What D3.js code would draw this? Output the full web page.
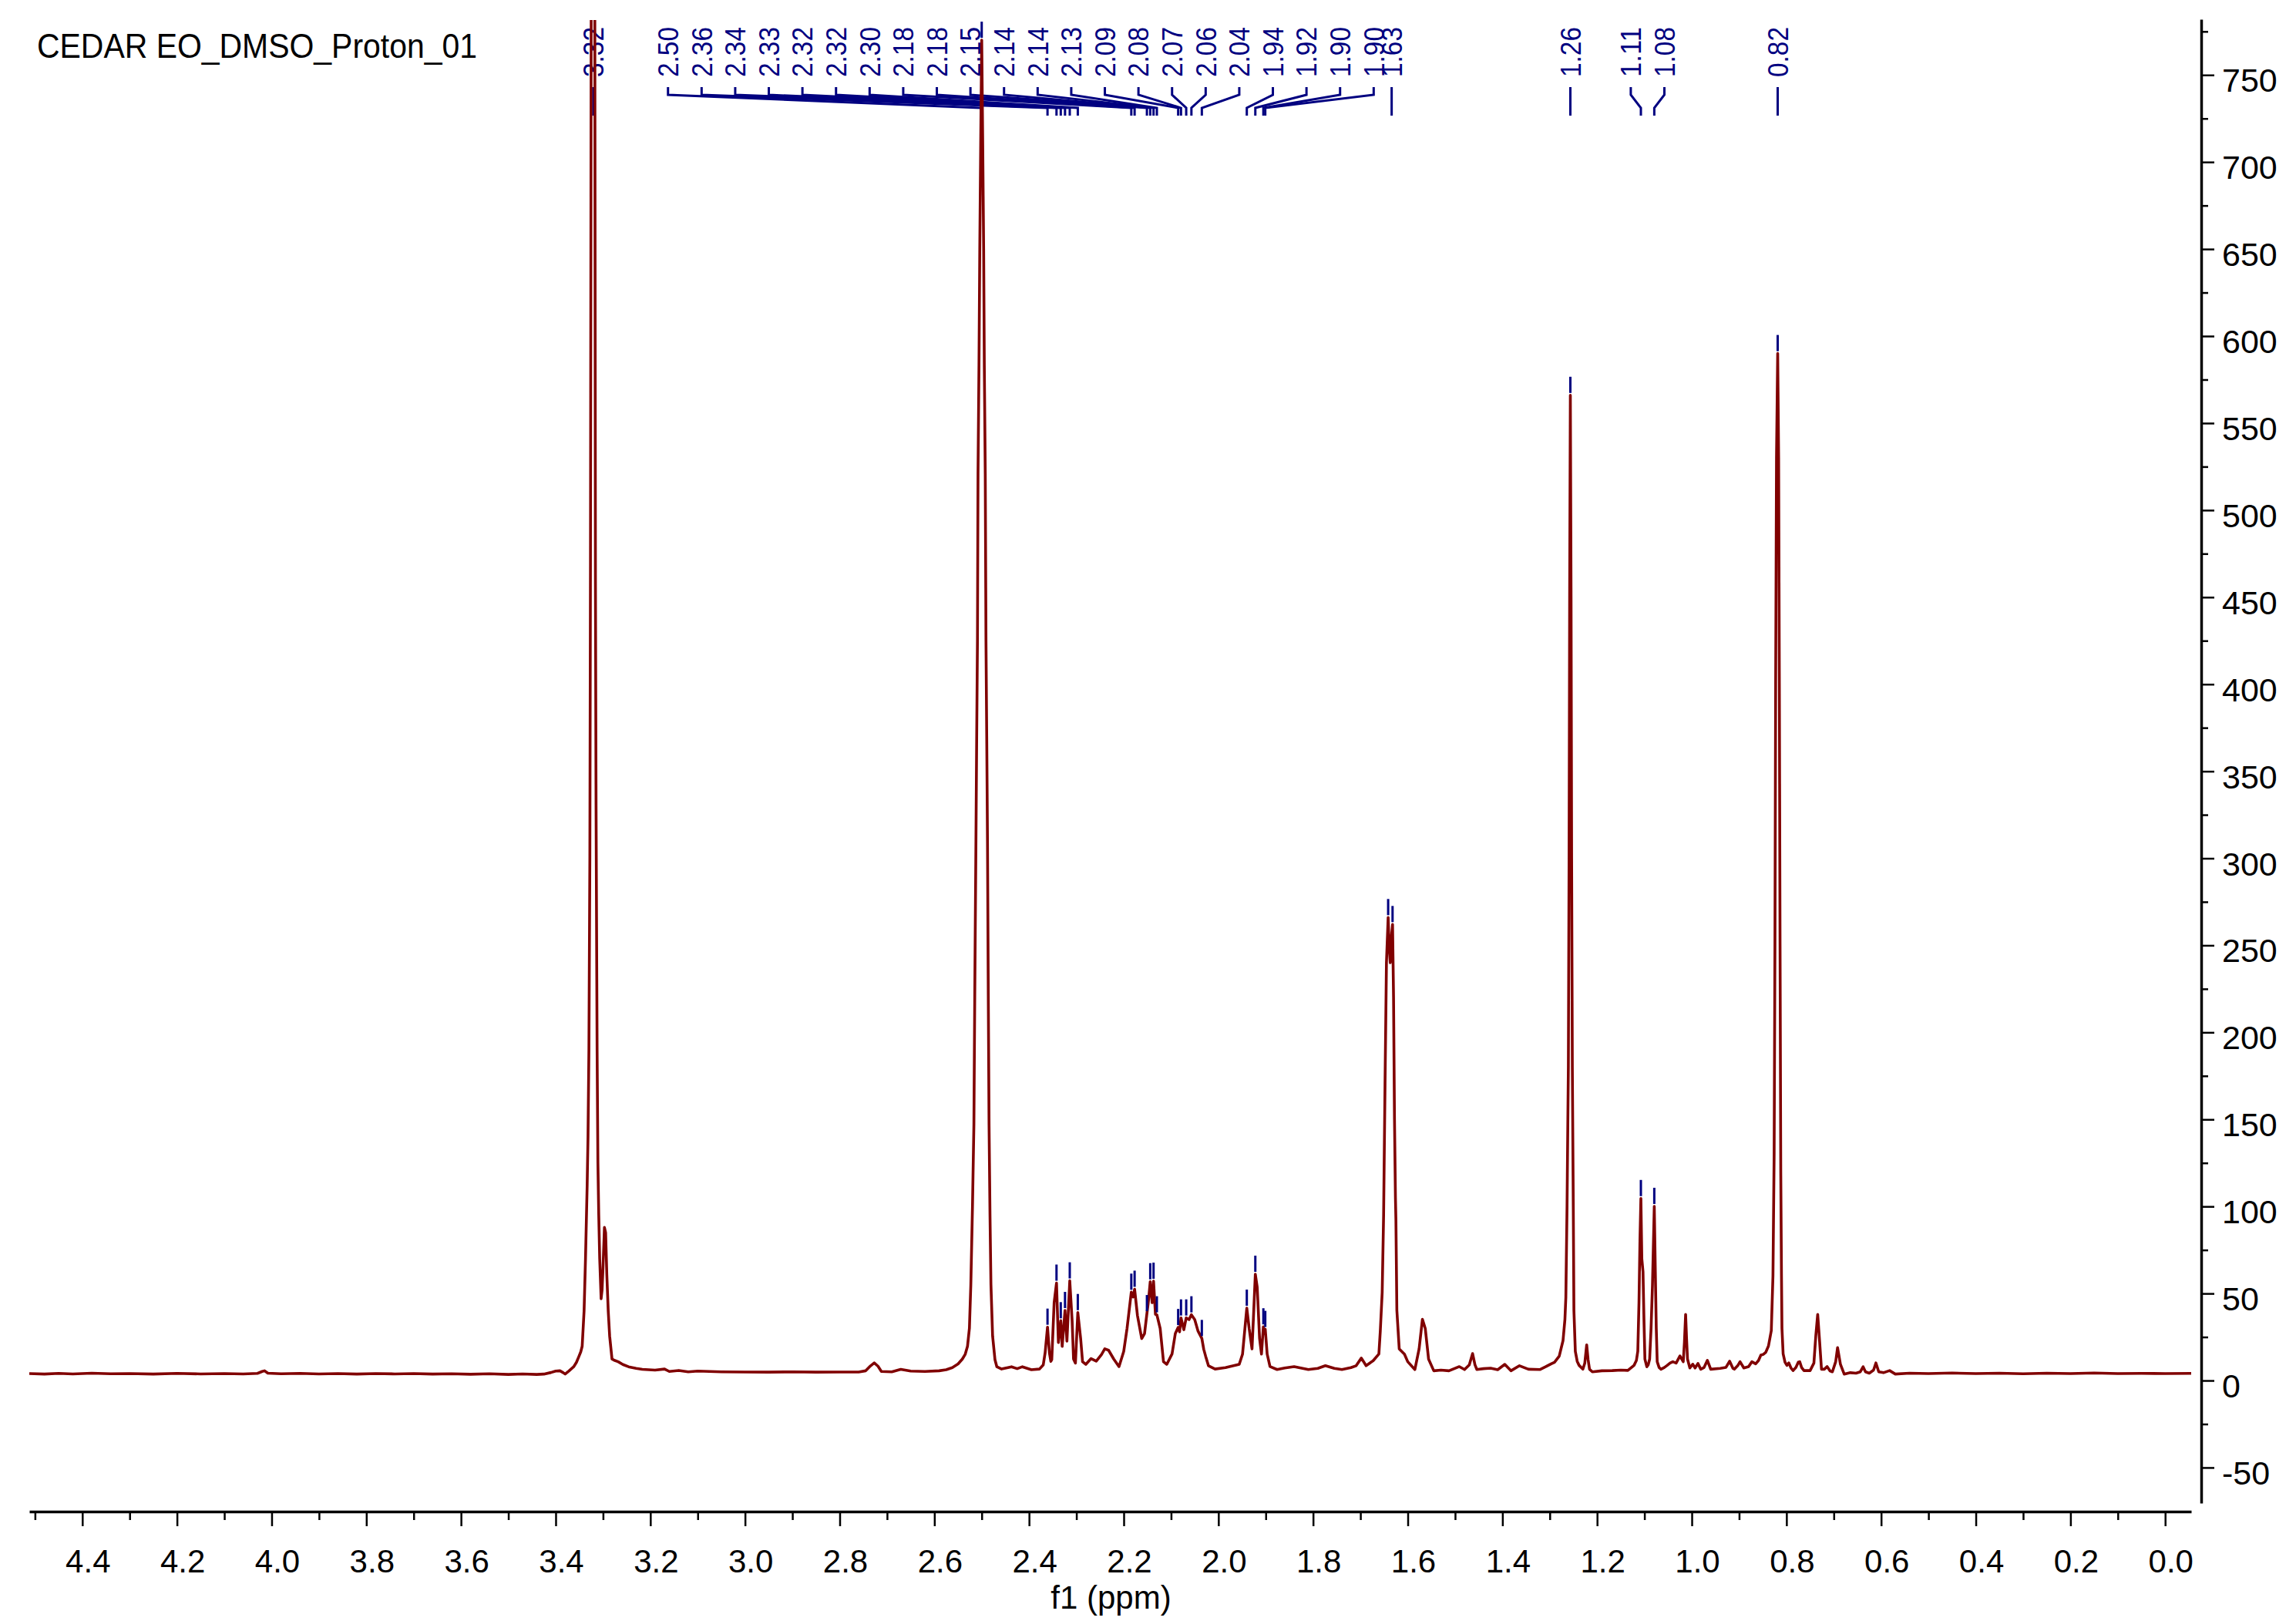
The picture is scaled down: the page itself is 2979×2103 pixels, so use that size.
<!DOCTYPE html>
<html><head><meta charset="utf-8">
<script src="https://cdn.jsdelivr.net/npm/d3@7"></script>
<style>
html,body{margin:0;padding:0;background:#fff}
svg{display:block}
text{font-family:"Liberation Sans",Arial,sans-serif}
</style>
</head><body>
<svg id="chart" width="2979" height="2103"></svg>
<script>
// ---------------- data ----------------
const chartTitle = "CEDAR EO_DMSO_Proton_01";
const xAxisTitle = "f1 (ppm)";
const xMajorTicks = [4.4,4.2,4.0,3.8,3.6,3.4,3.2,3.0,2.8,2.6,2.4,2.2,2.0,1.8,1.6,1.4,1.2,1.0,0.8,0.6,0.4,0.2,0.0];
const xMinorTicks = [4.5,4.3,4.1,3.9,3.7,3.5,3.3,3.1,2.9,2.7,2.5,2.3,2.1,1.9,1.7,1.5,1.3,1.1,0.9,0.7,0.5,0.3,0.1];
const yMajorTicks = [-50,0,50,100,150,200,250,300,350,400,450,500,550,600,650,700,750];
const yMinorTicks = [-25,25,75,125,175,225,275,325,375,425,475,525,575,625,675,725,775];

// spectrum trace: [chemical shift (ppm), intensity]
const spectrum = [
[4.512,4.0],[4.48,3.7],[4.45,4.1],[4.42,3.8],[4.38,4.2],[4.34,3.9],[4.30,4.0],[4.25,3.7],[4.20,4.1],[4.15,3.8],
[4.10,4.0],[4.06,3.8],[4.03,4.1],[4.02,5.2],[4.015,5.6],[4.008,4.2],[3.98,3.9],[3.94,4.1],[3.90,3.8],[3.86,4.0],
[3.82,3.7],[3.78,4.0],[3.74,3.8],[3.70,4.0],[3.66,3.7],[3.62,3.9],[3.58,3.6],[3.54,3.9],[3.50,3.5],[3.47,3.8],
[3.44,3.5],[3.425,3.7],[3.41,4.6],[3.40,5.4],[3.391,5.6],[3.384,4.5],[3.380,3.7],[3.372,5.5],[3.362,7.9],[3.356,10.5],
[3.351,13.8],[3.347,16.5],[3.344,19.7],[3.340,40],[3.337,70],[3.3335,112],[3.3317,140],[3.3298,190],[3.3278,300],[3.3265,470],
[3.3250,782],[3.3210,1500],[3.3173,782],[3.3160,460],[3.3147,330],[3.3125,190],[3.3108,125],[3.309,95],[3.307,70],[3.304,47],
[3.302,52],[3.300,65],[3.297,88],[3.2945,85],[3.292,61],[3.289,40],[3.286,25.6],[3.281,12.3],[3.275,11.5],[3.268,10.8],
[3.258,9.2],[3.246,7.9],[3.23,7.0],[3.217,6.4],[3.19,6.0],[3.17,6.6],[3.16,5.2],[3.14,5.8],[3.12,5.0],[3.10,5.4],
[3.05,5.0],[3.00,4.9],[2.95,4.8],[2.90,5.0],[2.85,4.8],[2.80,4.9],[2.76,4.9],[2.745,5.6],[2.735,8.4],[2.727,10.1],
[2.719,8.2],[2.712,5.2],[2.69,5.0],[2.671,6.4],[2.65,5.4],[2.62,5.2],[2.59,5.6],[2.575,6.2],[2.562,7.4],[2.550,9.5],
[2.541,12.3],[2.535,15],[2.530,19.7],[2.526,30],[2.523,55],[2.5195,100],[2.5165,147],[2.5147,221],[2.5122,310],[2.5106,370],
[2.5090,425],[2.5078,521],[2.5058,583],[2.5041,650],[2.5020,715],[2.5000,770],[2.4980,715],[2.4959,650],[2.4945,583],[2.4925,521],
[2.4910,425],[2.4894,370],[2.4878,310],[2.4861,221],[2.4845,147],[2.4825,95],[2.4805,55],[2.477,25.6],[2.472,12],[2.468,7.9],
[2.458,6.6],[2.437,7.9],[2.425,6.8],[2.414,7.9],[2.395,6.2],[2.378,6.6],[2.370,9],[2.366,16],[2.361,30.7],[2.357,16],
[2.354,11],[2.352,12],[2.347,44.7],[2.342,56],[2.338,21.8],[2.333,34.4],[2.330,19.6],[2.324,40.3],[2.320,22.6],[2.314,57.3],
[2.309,34.4],[2.306,12.3],[2.302,10],[2.297,39.1],[2.291,24.1],[2.287,10.8],[2.280,9.3],[2.269,12.6],[2.258,11.1],[2.247,14.9],
[2.240,18.2],[2.232,17.4],[2.221,12.3],[2.210,8.0],[2.200,16.7],[2.193,29.9],[2.184,50.8],[2.180,48],[2.177,52.5],[2.171,37.3],
[2.162,24.1],[2.156,27],[2.151,38.5],[2.148,45],[2.144,56.8],[2.140,44.7],[2.137,57.1],[2.133,38],[2.130,37.8],[2.123,29.9],
[2.116,10.8],[2.109,9.3],[2.098,15.2],[2.091,27],[2.085,30.5],[2.082,28],[2.079,36],[2.073,29.2],[2.068,36],[2.062,35],
[2.057,37.8],[2.050,35],[2.043,28.4],[2.035,24.2],[2.031,18],[2.027,14],[2.021,8.5],[2.007,6.6],[1.985,7.4],[1.956,9.3],
[1.949,15.2],[1.944,29.9],[1.940,41.6],[1.935,29.9],[1.929,18.2],[1.926,35.9],[1.922,61.1],[1.918,53.6],[1.913,24.1],[1.909,15.2],
[1.905,30.9],[1.903,27],[1.901,29.4],[1.897,15.2],[1.891,8.0],[1.876,6.3],[1.860,7.2],[1.840,8.0],[1.810,6.3],[1.790,7.0],
[1.774,8.5],[1.755,7.0],[1.739,6.3],[1.720,7.4],[1.709,8.5],[1.698,12.9],[1.688,8.5],[1.673,11.4],[1.661,15.2],[1.658,28.4],
[1.654,50.6],[1.651,95],[1.648,170],[1.645,240],[1.6414,266],[1.639,248],[1.637,240],[1.6345,255],[1.6321,262],[1.630,220],
[1.628,150],[1.626,105],[1.625,92],[1.623,40.3],[1.618,18.2],[1.607,15.2],[1.600,10.8],[1.585,6.3],[1.576,18.2],[1.569,35.2],
[1.563,29.9],[1.556,12.3],[1.545,5.6],[1.530,6.0],[1.513,5.6],[1.491,8.0],[1.480,6.3],[1.470,9],[1.463,15.5],[1.458,9],
[1.454,6.3],[1.440,6.8],[1.425,7.1],[1.410,6.2],[1.395,9.3],[1.382,5.6],[1.364,8.5],[1.345,6.5],[1.321,6.3],[1.308,8.0],
[1.297,9.6],[1.290,10.5],[1.280,14.0],[1.272,22.9],[1.268,35],[1.266,47.9],[1.2635,100],[1.2607,180],[1.2592,300],[1.2580,450],
[1.2565,566],[1.2550,450],[1.2538,300],[1.2523,180],[1.2503,100],[1.249,40.4],[1.246,16.8],[1.242,11],[1.238,8.7],[1.230,6.5],
[1.226,10],[1.222,20.5],[1.219,12],[1.216,6.5],[1.210,5.0],[1.190,5.6],[1.168,5.7],[1.150,6.0],[1.135,5.8],[1.122,8.7],
[1.117,11.5],[1.114,16.8],[1.1115,45],[1.1095,80],[1.1075,104.6],[1.1055,69.9],[1.103,62.5],[1.101,35],[1.099,12.3],[1.095,7.9],
[1.092,9],[1.089,12.3],[1.086,30],[1.083,55.1],[1.0792,100.1],[1.077,62.5],[1.075,30],[1.073,10.8],[1.069,7.5],[1.065,6.5],
[1.058,7.5],[1.052,8.7],[1.046,10],[1.040,10.8],[1.033,10],[1.025,14.1],[1.018,10.8],[1.0155,22],[1.013,38.0],[1.011,24],
[1.009,12.3],[1.004,7.2],[0.998,9.4],[0.993,7.2],[0.987,9.8],[0.981,6.5],[0.974,7.5],[0.967,11.6],[0.960,6.5],[0.940,7.0],
[0.928,7.5],[0.920,11.1],[0.913,7.0],[0.910,6.5],[0.903,8.5],[0.898,10.8],[0.890,7.2],[0.880,8.0],[0.873,10.8],[0.865,9.6],
[0.859,11.5],[0.854,14.6],[0.849,15],[0.844,16.1],[0.838,19.8],[0.832,28.7],[0.8285,60],[0.826,130],[0.8243,250],[0.8228,400],
[0.8210,530],[0.8185,590],[0.8165,530],[0.8150,400],[0.8135,250],[0.8120,120],[0.8105,60],[0.8095,30],[0.807,15.3],[0.803,10.5],
[0.799,8.7],[0.795,10.1],[0.790,7],[0.786,5.7],[0.780,7.5],[0.775,10.5],[0.772,10.8],[0.768,7.5],[0.763,5.7],[0.750,5.7],
[0.742,10],[0.738,25.6],[0.734,38.0],[0.730,22.6],[0.726,6.5],[0.720,6.5],[0.714,8.0],[0.708,5.5],[0.703,5.0],[0.696,10.8],
[0.692,18.9],[0.686,9.4],[0.678,3.7],[0.665,4.5],[0.653,4.2],[0.644,5.0],[0.638,7.9],[0.633,5.0],[0.625,4.2],[0.616,6.0],
[0.611,10.1],[0.605,5.0],[0.595,4.5],[0.582,5.7],[0.570,3.7],[0.540,4.2],[0.500,4.0],[0.450,4.3],[0.400,4.0],[0.350,4.2],
[0.300,3.9],[0.250,4.2],[0.200,4.0],[0.150,4.3],[0.100,4.0],[0.050,4.1],[0.000,4.0],[-0.055,4.1]
];

// picked peaks (blue ticks on the trace)
const markerPpm = [3.321,2.500,2.361,2.342,2.333,2.324,2.314,2.297,2.184,2.177,2.151,2.144,2.137,2.130,
  2.085,2.079,2.068,2.057,2.035,1.940,1.922,1.905,1.901,1.6414,1.6321,1.2565,1.1075,1.0792,0.8185];
// peak labels and the shift each label points to
const labelText = ["3.32","2.50","2.36","2.34","2.33","2.32","2.32","2.30","2.18","2.18","2.15","2.14","2.14","2.13",
  "2.09","2.08","2.07","2.06","2.04","1.94","1.92","1.90","1.90","1.63","1.26","1.11","1.08","0.82"];
const labelPpm = [3.3205,2.500,2.361,2.342,2.333,2.324,2.314,2.297,2.184,2.177,2.151,2.144,2.137,2.130,
  2.085,2.079,2.068,2.057,2.035,1.940,1.922,1.905,1.901,1.634,1.2565,1.1075,1.0792,0.8185];

// ---------------- layout ----------------
const W = 2979, H = 2103;
const plot = {left: 38, right: 2843, top: 26, xAxisY: 1961, yAxisX: 2856, yTop: 25, yBottom: 1950};
const RED = "#800000", NAVY = "#000080";

const x = d3.scaleLinear().domain([4.512, -0.055]).range([plot.left, plot.right]);
const y = d3.scaleLinear().domain([-70.4, 782]).range([plot.yBottom, plot.yTop]);

const svg = d3.select("#chart");
svg.append("rect").attr("width", W).attr("height", H).attr("fill", "#fff");

svg.append("defs").append("clipPath").attr("id", "plotClip")
  .append("rect").attr("x", plot.left).attr("y", plot.top)
  .attr("width", plot.right - plot.left + 6).attr("height", plot.xAxisY - plot.top);

// title
svg.append("text").attr("x", 48).attr("y", 75)
  .attr("font-size", 44).attr("fill", "#000")
  .attr("textLength", 571).attr("lengthAdjust", "spacingAndGlyphs")
  .text(chartTitle);

// ---- x axis ----
const gxMinor = svg.append("g").attr("transform", `translate(0,${plot.xAxisY})`)
  .call(d3.axisBottom(x).tickValues(xMinorTicks).tickSize(11).tickSizeOuter(0).tickFormat(""));
gxMinor.select(".domain").remove();
gxMinor.selectAll(".tick line").attr("stroke", "#000").attr("stroke-width", 2.5);

const gx = svg.append("g").attr("transform", `translate(0,${plot.xAxisY})`)
  .call(d3.axisBottom(x).tickValues(xMajorTicks).tickSize(19).tickSizeOuter(0).tickFormat(d => d.toFixed(1)));
gx.select(".domain").attr("stroke", "#000").attr("stroke-width", 3.5);
gx.selectAll(".tick line").attr("stroke", "#000").attr("stroke-width", 2.5);
gx.selectAll(".tick text").attr("font-size", 42).attr("fill", "#000")
  .attr("font-family", '"Liberation Sans",Arial,sans-serif')
  .attr("x", 7).attr("y", 79).attr("dy", 0);

svg.append("text").attr("x", (plot.left + plot.right) / 2 + 1).attr("y", 2087)
  .attr("text-anchor", "middle").attr("font-size", 42).attr("fill", "#000").text(xAxisTitle);

// ---- y axis (right) ----
const gyMinor = svg.append("g").attr("transform", `translate(${plot.yAxisX},0)`)
  .call(d3.axisRight(y).tickValues(yMinorTicks).tickSize(9).tickSizeOuter(0).tickFormat(""));
gyMinor.select(".domain").remove();
gyMinor.selectAll(".tick line").attr("stroke", "#000").attr("stroke-width", 2.5);

const gy = svg.append("g").attr("transform", `translate(${plot.yAxisX},0)`)
  .call(d3.axisRight(y).tickValues(yMajorTicks).tickSize(17).tickSizeOuter(0).tickFormat(d => String(d)));
gy.select(".domain").attr("stroke", "#000").attr("stroke-width", 3.5);
gy.selectAll(".tick line").attr("stroke", "#000").attr("stroke-width", 2.5);
gy.selectAll(".tick text").attr("font-size", 43).attr("fill", "#000")
  .attr("font-family", '"Liberation Sans",Arial,sans-serif')
  .attr("text-anchor", "start").attr("x", 27).attr("y", 21.5).attr("dy", 0);

// ---- peak labels (rotated), connectors ----
const LABEL_SPACING = 43.6;
const slots = labelPpm.map(p => x(p));
// the crowded 2.50–1.90 block is fanned out to the left, as in the reference
{
  const first = 1, last = 22, start = x(3.1627);
  for (let i = first; i <= last; i++) slots[i] = start + (i - first) * LABEL_SPACING;
}
// the 1.11 / 1.08 pair is spread around its mean position
{
  const a = 25, b = 26, m = (x(labelPpm[a]) + x(labelPpm[b])) / 2;
  slots[a] = m - LABEL_SPACING / 2; slots[b] = m + LABEL_SPACING / 2;
}

const gLab = svg.append("g");
labelText.forEach((t, i) => {
  const sx = slots[i], px = x(labelPpm[i]);
  gLab.append("text")
    .attr("transform", `translate(${sx},100) rotate(-90)`)
    .attr("dy", "0.36em").attr("font-size", 37).attr("fill", NAVY)
    .attr("textLength", 65).attr("lengthAdjust", "spacingAndGlyphs")
    .text(t);
  gLab.append("path")
    .attr("d", `M${sx},113V123L${px},140V150`)
    .attr("fill", "none").attr("stroke", NAVY).attr("stroke-width", 3);
});

// ---- spectrum ----
const line = d3.line().x(d => x(d[0])).y(d => y(d[1]));
svg.append("path").datum(spectrum)
  .attr("clip-path", "url(#plotClip)")
  .attr("d", line).attr("fill", "none").attr("stroke", RED)
  .attr("stroke-width", 3.6).attr("stroke-linejoin", "round");

// ---- peak markers ----
const sorted = spectrum.slice().sort((a, b) => a[0] - b[0]);
const bis = d3.bisector(d => d[0]).left;
function valueAt(p) {
  const i = bis(sorted, p);
  if (i <= 0) return sorted[0][1];
  if (i >= sorted.length) return sorted[sorted.length - 1][1];
  const a = sorted[i - 1], b = sorted[i];
  return a[1] + (b[1] - a[1]) * (p - a[0]) / (b[0] - a[0]);
}
svg.append("g").attr("clip-path", "url(#plotClip)")
  .selectAll("line").data(markerPpm).join("line")
  .attr("x1", d => x(d)).attr("x2", d => x(d))
  .attr("y1", d => y(valueAt(d)) - 24).attr("y2", d => y(valueAt(d)) - 3)
  .attr("stroke", NAVY).attr("stroke-width", 3);
</script>
</body></html>
